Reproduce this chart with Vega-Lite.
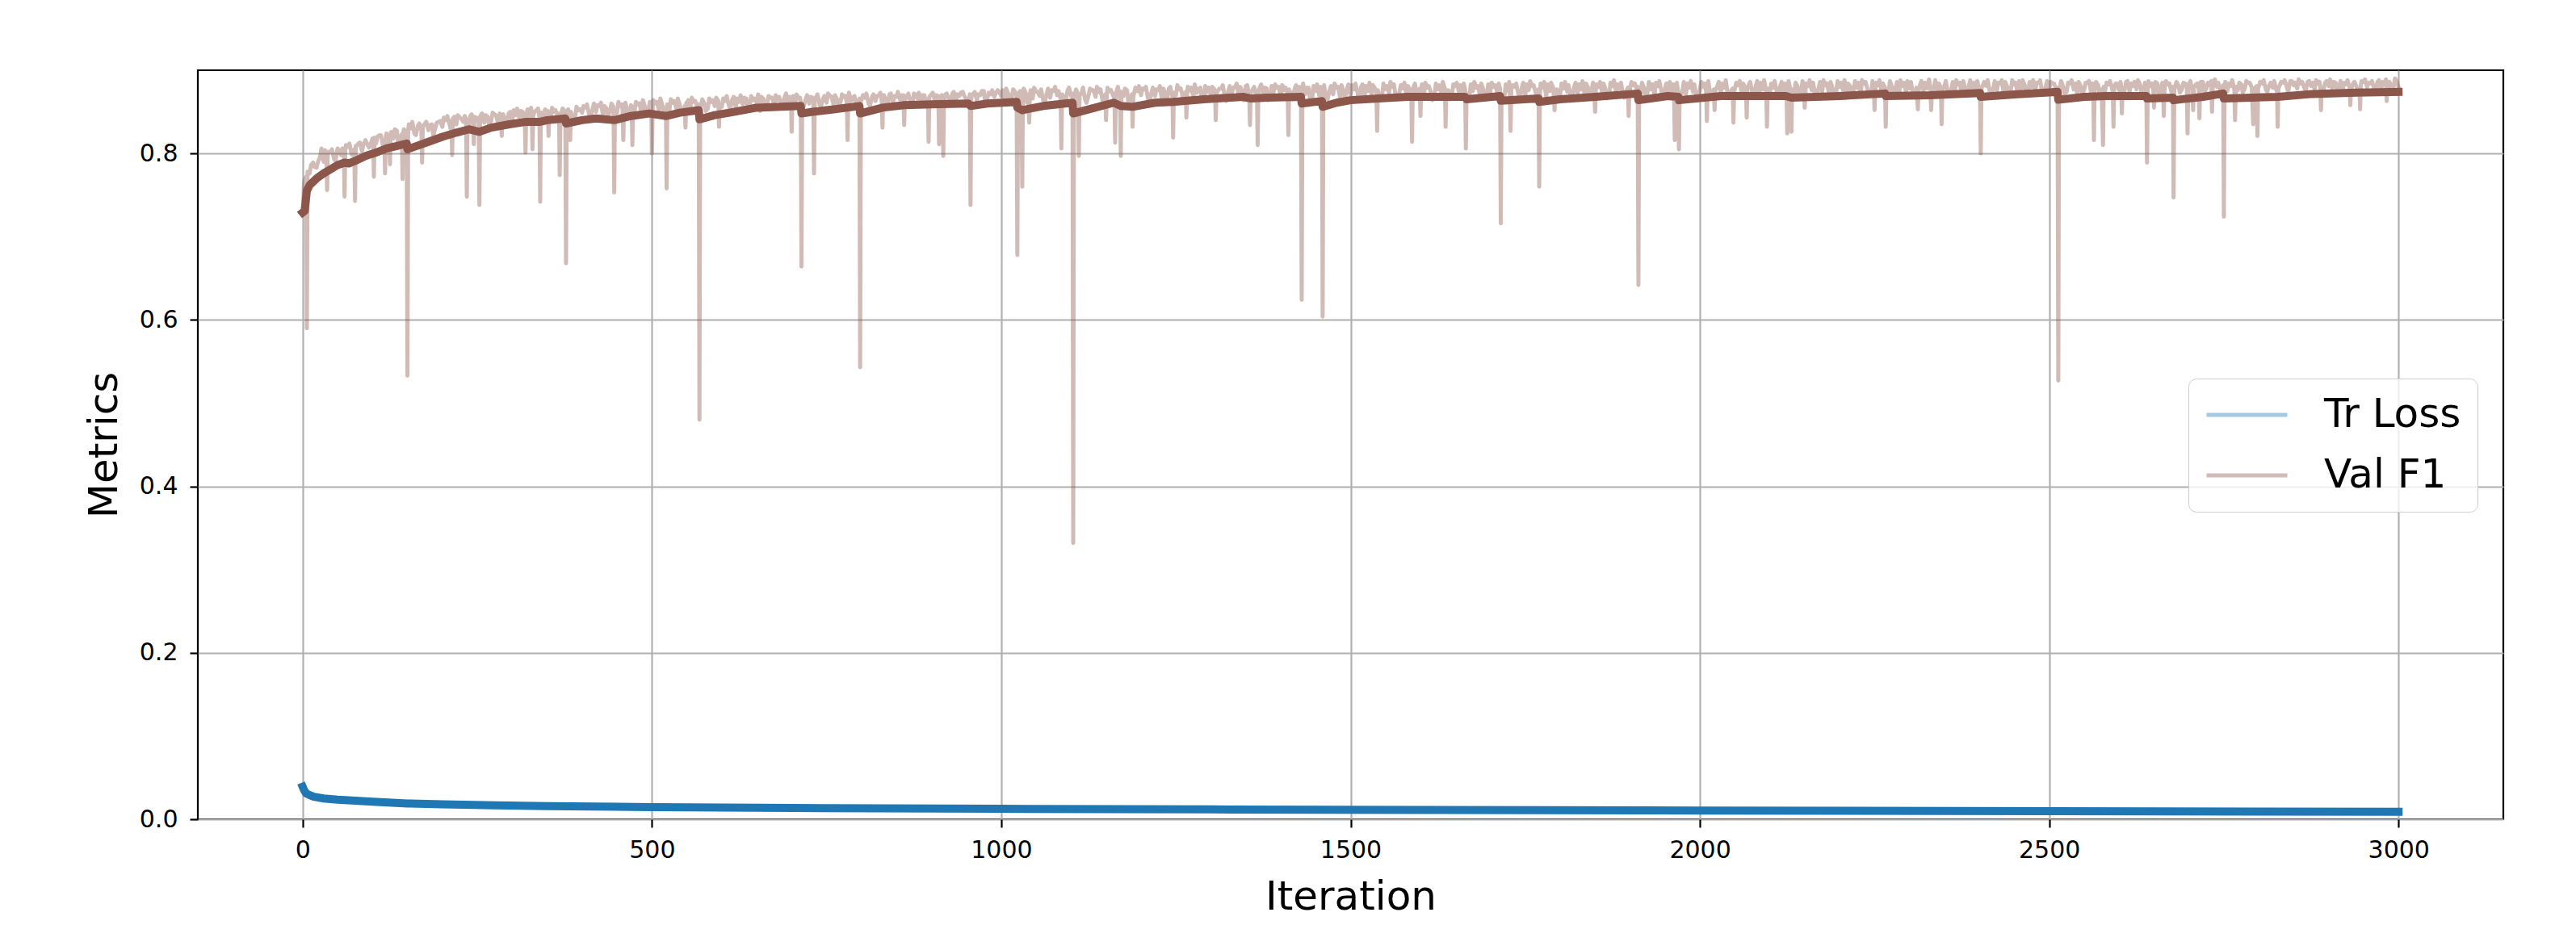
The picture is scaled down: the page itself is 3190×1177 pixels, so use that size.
{
  "$schema": "https://vega.github.io/schema/vega-lite/v6.json",
  "width": 2855,
  "height": 928,
  "autosize": {"type": "none"},
  "padding": {"left": 245, "top": 87, "right": 90, "bottom": 162},
  "background": "white",
  "config": {
    "font": "DejaVu Sans",
    "view": {"stroke": "black", "strokeWidth": 2.2},
    "axis": {
      "domain": false,
      "grid": true,
      "gridColor": "#b0b0b0",
      "gridWidth": 2.2,
      "gridOpacity": 1,
      "tickColor": "black",
      "tickWidth": 2.2,
      "tickSize": 10,
      "labelFont": "DejaVu Sans",
      "labelFontSize": 30,
      "labelColor": "black",
      "labelFlush": false,
      "labelOverlap": false,
      "titleFont": "DejaVu Sans",
      "titleFontSize": 50,
      "titleFontWeight": "normal",
      "titleColor": "black"
    }
  },
  "datasets": {
    "raw": [
{"i":0,"v":0.728},{"i":2,"v":0.764},{"i":4,"v":0.771},{"i":5,"v":0.772},{"i":6,"v":0.590},{"i":7,"v":0.778},{"i":10,"v":0.776},{"i":15,"v":0.789},{"i":20,"v":0.783},{"i":25,"v":0.796},{"i":30,"v":0.790},{"i":34,"v":0.794},{"i":35,"v":0.756},{"i":36,"v":0.799},{"i":40,"v":0.802},{"i":45,"v":0.793},{"i":50,"v":0.806},{"i":55,"v":0.798},{"i":59,"v":0.801},{"i":60,"v":0.748},{"i":61,"v":0.804},{"i":65,"v":0.808},{"i":70,"v":0.799},{"i":74,"v":0.805},{"i":75,"v":0.743},{"i":76,"v":0.809},{"i":80,"v":0.812},{"i":85,"v":0.803},{"i":90,"v":0.816},{"i":95,"v":0.807},
{"i":100,"v":0.818},{"i":101,"v":0.815},{"i":102,"v":0.772},{"i":103,"v":0.819},{"i":105,"v":0.812},{"i":110,"v":0.822},{"i":115,"v":0.809},{"i":117,"v":0.816},{"i":118,"v":0.776},{"i":119,"v":0.820},{"i":120,"v":0.824},{"i":124,"v":0.821},{"i":125,"v":0.787},{"i":126,"v":0.825},{"i":130,"v":0.818},{"i":135,"v":0.827},{"i":140,"v":0.820},{"i":142,"v":0.823},{"i":143,"v":0.769},{"i":144,"v":0.826},{"i":145,"v":0.829},{"i":149,"v":0.822},{"i":150,"v":0.533},{"i":151,"v":0.827},{"i":155,"v":0.830},{"i":160,"v":0.824},{"i":165,"v":0.833},{"i":170,"v":0.827},{"i":171,"v":0.789},{"i":172,"v":0.832},{"i":175,"v":0.836},{"i":180,"v":0.828},{"i":185,"v":0.835},{"i":190,"v":0.831},{"i":195,"v":0.838},
{"i":200,"v":0.832},{"i":205,"v":0.840},{"i":210,"v":0.836},{"i":213,"v":0.839},{"i":214,"v":0.798},{"i":215,"v":0.842},{"i":220,"v":0.835},{"i":225,"v":0.843},{"i":230,"v":0.838},{"i":234,"v":0.841},{"i":235,"v":0.748},{"i":236,"v":0.837},{"i":240,"v":0.845},{"i":244,"v":0.838},{"i":245,"v":0.811},{"i":246,"v":0.842},{"i":250,"v":0.839},{"i":252,"v":0.843},{"i":253,"v":0.738},{"i":254,"v":0.840},{"i":255,"v":0.846},{"i":260,"v":0.837},{"i":265,"v":0.844},{"i":270,"v":0.840},{"i":275,"v":0.847},{"i":280,"v":0.836},{"i":284,"v":0.843},{"i":285,"v":0.821},{"i":286,"v":0.846},{"i":290,"v":0.841},{"i":295,"v":0.848},
{"i":300,"v":0.839},{"i":305,"v":0.846},{"i":310,"v":0.843},{"i":315,"v":0.850},{"i":318,"v":0.844},{"i":319,"v":0.801},{"i":320,"v":0.847},{"i":325,"v":0.841},{"i":328,"v":0.848},{"i":329,"v":0.805},{"i":330,"v":0.845},{"i":335,"v":0.852},{"i":339,"v":0.843},{"i":340,"v":0.742},{"i":341,"v":0.849},{"i":345,"v":0.846},{"i":350,"v":0.844},{"i":351,"v":0.851},{"i":352,"v":0.821},{"i":353,"v":0.847},{"i":355,"v":0.842},{"i":360,"v":0.850},{"i":365,"v":0.845},{"i":367,"v":0.848},{"i":368,"v":0.774},{"i":369,"v":0.843},{"i":375,"v":0.851},{"i":376,"v":0.849},{"i":377,"v":0.668},{"i":378,"v":0.846},{"i":380,"v":0.853},{"i":382,"v":0.847},{"i":383,"v":0.816},{"i":384,"v":0.850},{"i":390,"v":0.844},{"i":395,"v":0.852},
{"i":400,"v":0.849},{"i":405,"v":0.855},{"i":410,"v":0.847},{"i":415,"v":0.853},{"i":420,"v":0.850},{"i":425,"v":0.857},{"i":430,"v":0.846},{"i":435,"v":0.854},{"i":440,"v":0.851},{"i":445,"v":0.856},{"i":446,"v":0.753},{"i":447,"v":0.852},{"i":450,"v":0.849},{"i":455,"v":0.857},{"i":458,"v":0.852},{"i":459,"v":0.816},{"i":460,"v":0.855},{"i":465,"v":0.850},{"i":470,"v":0.858},{"i":471,"v":0.853},{"i":472,"v":0.810},{"i":473,"v":0.856},{"i":475,"v":0.851},{"i":480,"v":0.859},{"i":485,"v":0.849},{"i":490,"v":0.856},{"i":495,"v":0.853},
{"i":499,"v":0.858},{"i":500,"v":0.800},{"i":501,"v":0.855},{"i":505,"v":0.860},{"i":510,"v":0.852},{"i":515,"v":0.858},{"i":520,"v":0.855},{"i":521,"v":0.758},{"i":522,"v":0.859},{"i":525,"v":0.852},{"i":530,"v":0.861},{"i":535,"v":0.854},{"i":540,"v":0.858},{"i":545,"v":0.851},{"i":547,"v":0.857},{"i":548,"v":0.831},{"i":549,"v":0.860},{"i":555,"v":0.856},{"i":560,"v":0.862},{"i":565,"v":0.855},{"i":567,"v":0.859},{"i":568,"v":0.480},{"i":569,"v":0.853},{"i":575,"v":0.860},{"i":580,"v":0.854},{"i":585,"v":0.862},{"i":590,"v":0.857},{"i":595,"v":0.863},{"i":596,"v":0.832},{"i":597,"v":0.858},
{"i":600,"v":0.856},{"i":605,"v":0.863},{"i":610,"v":0.858},{"i":615,"v":0.865},{"i":620,"v":0.855},{"i":625,"v":0.862},{"i":630,"v":0.859},{"i":635,"v":0.866},{"i":640,"v":0.857},{"i":645,"v":0.864},{"i":650,"v":0.860},{"i":655,"v":0.851},{"i":660,"v":0.865},{"i":665,"v":0.859},{"i":670,"v":0.867},{"i":675,"v":0.858},{"i":680,"v":0.864},{"i":685,"v":0.861},{"i":690,"v":0.868},{"i":695,"v":0.857},{"i":699,"v":0.863},{"i":700,"v":0.826},{"i":701,"v":0.866},
{"i":705,"v":0.859},{"i":710,"v":0.866},{"i":713,"v":0.862},{"i":714,"v":0.664},{"i":715,"v":0.858},{"i":720,"v":0.865},{"i":725,"v":0.860},{"i":730,"v":0.867},{"i":731,"v":0.861},{"i":732,"v":0.776},{"i":733,"v":0.864},{"i":740,"v":0.858},{"i":745,"v":0.866},{"i":750,"v":0.861},{"i":755,"v":0.869},{"i":760,"v":0.859},{"i":765,"v":0.865},{"i":770,"v":0.862},{"i":775,"v":0.868},{"i":779,"v":0.860},{"i":780,"v":0.816},{"i":781,"v":0.866},{"i":785,"v":0.863},{"i":790,"v":0.869},{"i":795,"v":0.861},{"i":797,"v":0.866},{"i":798,"v":0.543},{"i":799,"v":0.862},
{"i":805,"v":0.867},{"i":810,"v":0.860},{"i":815,"v":0.868},{"i":820,"v":0.863},{"i":825,"v":0.870},{"i":829,"v":0.862},{"i":830,"v":0.831},{"i":831,"v":0.867},{"i":835,"v":0.864},{"i":840,"v":0.871},{"i":845,"v":0.861},{"i":850,"v":0.868},{"i":855,"v":0.865},{"i":860,"v":0.870},{"i":861,"v":0.834},{"i":862,"v":0.864},{"i":865,"v":0.869},{"i":870,"v":0.862},{"i":875,"v":0.872},{"i":880,"v":0.866},{"i":885,"v":0.863},{"i":890,"v":0.870},{"i":895,"v":0.865},{"i":896,"v":0.814},{"i":897,"v":0.868},{"i":900,"v":0.871},
{"i":905,"v":0.863},{"i":910,"v":0.869},{"i":911,"v":0.811},{"i":912,"v":0.866},{"i":915,"v":0.870},{"i":916,"v":0.868},{"i":917,"v":0.797},{"i":918,"v":0.864},{"i":920,"v":0.871},{"i":925,"v":0.866},{"i":930,"v":0.872},{"i":935,"v":0.863},{"i":940,"v":0.869},{"i":945,"v":0.874},{"i":950,"v":0.865},{"i":955,"v":0.871},{"i":956,"v":0.738},{"i":957,"v":0.867},{"i":960,"v":0.872},{"i":965,"v":0.864},{"i":970,"v":0.870},{"i":975,"v":0.875},{"i":980,"v":0.866},{"i":985,"v":0.871},{"i":990,"v":0.868},{"i":995,"v":0.876},
{"i":1000,"v":0.869},{"i":1005,"v":0.864},{"i":1010,"v":0.872},{"i":1015,"v":0.867},{"i":1020,"v":0.874},{"i":1022,"v":0.868},{"i":1023,"v":0.678},{"i":1024,"v":0.871},{"i":1029,"v":0.866},{"i":1030,"v":0.760},{"i":1031,"v":0.870},{"i":1035,"v":0.873},{"i":1039,"v":0.868},{"i":1040,"v":0.837},{"i":1041,"v":0.871},{"i":1045,"v":0.866},{"i":1050,"v":0.874},{"i":1055,"v":0.869},{"i":1060,"v":0.864},{"i":1065,"v":0.872},{"i":1070,"v":0.867},{"i":1075,"v":0.875},{"i":1080,"v":0.870},{"i":1085,"v":0.865},{"i":1086,"v":0.806},{"i":1087,"v":0.871},{"i":1090,"v":0.868},{"i":1095,"v":0.876},{"i":1100,"v":0.869},{"i":1102,"v":0.872},{"i":1103,"v":0.332},{"i":1104,"v":0.866},
{"i":1110,"v":0.871},{"i":1111,"v":0.797},{"i":1112,"v":0.869},{"i":1115,"v":0.873},{"i":1120,"v":0.865},{"i":1125,"v":0.870},{"i":1130,"v":0.876},{"i":1135,"v":0.868},{"i":1140,"v":0.874},{"i":1145,"v":0.863},{"i":1149,"v":0.871},{"i":1150,"v":0.840},{"i":1151,"v":0.869},{"i":1155,"v":0.875},{"i":1160,"v":0.870},{"i":1162,"v":0.866},{"i":1163,"v":0.813},{"i":1164,"v":0.872},{"i":1170,"v":0.868},{"i":1171,"v":0.797},{"i":1172,"v":0.874},{"i":1175,"v":0.869},{"i":1180,"v":0.876},{"i":1185,"v":0.864},{"i":1187,"v":0.871},{"i":1188,"v":0.832},{"i":1189,"v":0.868},{"i":1195,"v":0.875},
{"i":1200,"v":0.870},{"i":1205,"v":0.877},{"i":1210,"v":0.866},{"i":1215,"v":0.873},{"i":1220,"v":0.869},{"i":1225,"v":0.876},{"i":1230,"v":0.864},{"i":1235,"v":0.872},{"i":1240,"v":0.878},{"i":1245,"v":0.868},{"i":1246,"v":0.819},{"i":1247,"v":0.873},{"i":1250,"v":0.870},{"i":1255,"v":0.877},{"i":1260,"v":0.867},{"i":1264,"v":0.874},{"i":1265,"v":0.843},{"i":1266,"v":0.871},{"i":1270,"v":0.876},{"i":1275,"v":0.868},{"i":1280,"v":0.873},{"i":1285,"v":0.879},{"i":1290,"v":0.866},{"i":1295,"v":0.874},{"i":1300,"v":0.871},
{"i":1305,"v":0.877},{"i":1306,"v":0.874},{"i":1307,"v":0.840},{"i":1308,"v":0.872},{"i":1315,"v":0.878},{"i":1320,"v":0.869},{"i":1325,"v":0.875},{"i":1330,"v":0.872},{"i":1335,"v":0.880},{"i":1340,"v":0.867},{"i":1345,"v":0.874},{"i":1350,"v":0.881},{"i":1355,"v":0.870},{"i":1356,"v":0.834},{"i":1357,"v":0.873},{"i":1360,"v":0.877},{"i":1365,"v":0.868},{"i":1366,"v":0.872},{"i":1367,"v":0.810},{"i":1368,"v":0.875},{"i":1375,"v":0.871},{"i":1380,"v":0.878},{"i":1385,"v":0.866},{"i":1390,"v":0.874},{"i":1395,"v":0.879},
{"i":1400,"v":0.869},{"i":1405,"v":0.876},{"i":1410,"v":0.872},{"i":1411,"v":0.822},{"i":1412,"v":0.877},{"i":1415,"v":0.870},{"i":1420,"v":0.878},{"i":1425,"v":0.873},{"i":1429,"v":0.868},{"i":1430,"v":0.624},{"i":1431,"v":0.874},{"i":1435,"v":0.871},{"i":1440,"v":0.879},{"i":1445,"v":0.866},{"i":1450,"v":0.875},{"i":1455,"v":0.870},{"i":1459,"v":0.877},{"i":1460,"v":0.604},{"i":1461,"v":0.872},{"i":1465,"v":0.868},{"i":1470,"v":0.876},{"i":1475,"v":0.871},{"i":1480,"v":0.879},{"i":1485,"v":0.867},{"i":1490,"v":0.874},{"i":1495,"v":0.878},
{"i":1500,"v":0.870},{"i":1505,"v":0.877},{"i":1510,"v":0.873},{"i":1515,"v":0.880},{"i":1520,"v":0.868},{"i":1525,"v":0.875},{"i":1530,"v":0.871},{"i":1535,"v":0.878},{"i":1537,"v":0.872},{"i":1538,"v":0.827},{"i":1539,"v":0.876},{"i":1545,"v":0.869},{"i":1550,"v":0.877},{"i":1555,"v":0.873},{"i":1560,"v":0.880},{"i":1565,"v":0.867},{"i":1570,"v":0.874},{"i":1575,"v":0.878},{"i":1580,"v":0.870},{"i":1585,"v":0.876},{"i":1587,"v":0.872},{"i":1588,"v":0.814},{"i":1589,"v":0.877},{"i":1595,"v":0.871},{"i":1599,"v":0.878},{"i":1600,"v":0.845},{"i":1601,"v":0.874},
{"i":1605,"v":0.870},{"i":1610,"v":0.879},{"i":1615,"v":0.873},{"i":1620,"v":0.868},{"i":1625,"v":0.877},{"i":1630,"v":0.872},{"i":1635,"v":0.878},{"i":1636,"v":0.832},{"i":1637,"v":0.871},{"i":1640,"v":0.876},{"i":1645,"v":0.869},{"i":1650,"v":0.881},{"i":1655,"v":0.874},{"i":1660,"v":0.870},{"i":1664,"v":0.877},{"i":1665,"v":0.806},{"i":1666,"v":0.872},{"i":1670,"v":0.866},{"i":1675,"v":0.875},{"i":1680,"v":0.879},{"i":1685,"v":0.871},{"i":1690,"v":0.877},{"i":1695,"v":0.868},{"i":1700,"v":0.874},
{"i":1705,"v":0.880},{"i":1710,"v":0.873},{"i":1714,"v":0.878},{"i":1715,"v":0.716},{"i":1716,"v":0.870},{"i":1720,"v":0.866},{"i":1725,"v":0.875},{"i":1728,"v":0.871},{"i":1729,"v":0.827},{"i":1730,"v":0.877},{"i":1735,"v":0.880},{"i":1740,"v":0.872},{"i":1745,"v":0.878},{"i":1750,"v":0.869},{"i":1755,"v":0.876},{"i":1760,"v":0.881},{"i":1765,"v":0.873},{"i":1769,"v":0.877},{"i":1770,"v":0.760},{"i":1771,"v":0.871},{"i":1775,"v":0.879},{"i":1780,"v":0.868},{"i":1785,"v":0.875},{"i":1790,"v":0.879},{"i":1792,"v":0.852},{"i":1793,"v":0.872},{"i":1795,"v":0.877},{"i":1800,"v":0.871},
{"i":1805,"v":0.878},{"i":1810,"v":0.874},{"i":1815,"v":0.869},{"i":1820,"v":0.880},{"i":1825,"v":0.872},{"i":1830,"v":0.877},{"i":1835,"v":0.870},{"i":1840,"v":0.879},{"i":1845,"v":0.875},{"i":1849,"v":0.871},{"i":1850,"v":0.850},{"i":1851,"v":0.876},{"i":1855,"v":0.880},{"i":1860,"v":0.873},{"i":1865,"v":0.877},{"i":1870,"v":0.868},{"i":1875,"v":0.881},{"i":1880,"v":0.874},{"i":1885,"v":0.878},{"i":1890,"v":0.871},{"i":1895,"v":0.876},{"i":1897,"v":0.879},{"i":1898,"v":0.845},{"i":1899,"v":0.873},
{"i":1905,"v":0.882},{"i":1910,"v":0.876},{"i":1911,"v":0.880},{"i":1912,"v":0.642},{"i":1913,"v":0.874},{"i":1915,"v":0.871},{"i":1920,"v":0.879},{"i":1925,"v":0.873},{"i":1930,"v":0.877},{"i":1935,"v":0.870},{"i":1940,"v":0.881},{"i":1945,"v":0.874},{"i":1950,"v":0.878},{"i":1955,"v":0.872},{"i":1960,"v":0.866},{"i":1963,"v":0.874},{"i":1964,"v":0.816},{"i":1965,"v":0.870},{"i":1969,"v":0.873},{"i":1970,"v":0.805},{"i":1971,"v":0.868},{"i":1975,"v":0.876},{"i":1980,"v":0.871},{"i":1985,"v":0.879},{"i":1990,"v":0.874},{"i":1995,"v":0.868},{"i":2000,"v":0.877},
{"i":2005,"v":0.880},{"i":2009,"v":0.874},{"i":2010,"v":0.839},{"i":2011,"v":0.878},{"i":2015,"v":0.871},{"i":2020,"v":0.877},{"i":2021,"v":0.852},{"i":2022,"v":0.875},{"i":2025,"v":0.881},{"i":2030,"v":0.873},{"i":2035,"v":0.879},{"i":2040,"v":0.870},{"i":2045,"v":0.876},{"i":2047,"v":0.878},{"i":2048,"v":0.837},{"i":2049,"v":0.874},{"i":2055,"v":0.882},{"i":2060,"v":0.872},{"i":2065,"v":0.878},{"i":2066,"v":0.875},{"i":2067,"v":0.843},{"i":2068,"v":0.879},{"i":2075,"v":0.873},{"i":2080,"v":0.881},{"i":2085,"v":0.869},{"i":2090,"v":0.877},{"i":2095,"v":0.874},{"i":2096,"v":0.832},{"i":2097,"v":0.878},{"i":2100,"v":0.871},
{"i":2105,"v":0.879},{"i":2110,"v":0.874},{"i":2115,"v":0.881},{"i":2120,"v":0.870},{"i":2124,"v":0.876},{"i":2125,"v":0.824},{"i":2126,"v":0.872},{"i":2130,"v":0.874},{"i":2131,"v":0.826},{"i":2132,"v":0.877},{"i":2135,"v":0.871},{"i":2140,"v":0.880},{"i":2145,"v":0.875},{"i":2149,"v":0.878},{"i":2150,"v":0.855},{"i":2151,"v":0.873},{"i":2155,"v":0.881},{"i":2160,"v":0.876},{"i":2165,"v":0.870},{"i":2170,"v":0.879},{"i":2175,"v":0.874},{"i":2180,"v":0.882},{"i":2185,"v":0.871},{"i":2190,"v":0.878},{"i":2195,"v":0.873},{"i":2200,"v":0.880},
{"i":2205,"v":0.876},{"i":2210,"v":0.870},{"i":2215,"v":0.881},{"i":2220,"v":0.875},{"i":2225,"v":0.879},{"i":2230,"v":0.872},{"i":2235,"v":0.884},{"i":2240,"v":0.877},{"i":2245,"v":0.871},{"i":2249,"v":0.878},{"i":2250,"v":0.852},{"i":2251,"v":0.876},{"i":2255,"v":0.882},{"i":2260,"v":0.874},{"i":2265,"v":0.879},{"i":2266,"v":0.832},{"i":2267,"v":0.875},{"i":2270,"v":0.872},{"i":2275,"v":0.880},{"i":2280,"v":0.876},{"i":2285,"v":0.869},{"i":2290,"v":0.881},{"i":2295,"v":0.874},{"i":2300,"v":0.878},
{"i":2305,"v":0.871},{"i":2310,"v":0.879},{"i":2312,"v":0.853},{"i":2313,"v":0.876},{"i":2315,"v":0.882},{"i":2320,"v":0.875},{"i":2325,"v":0.878},{"i":2328,"v":0.889},{"i":2330,"v":0.877},{"i":2331,"v":0.852},{"i":2332,"v":0.874},{"i":2335,"v":0.880},{"i":2340,"v":0.873},{"i":2345,"v":0.879},{"i":2346,"v":0.835},{"i":2347,"v":0.876},{"i":2350,"v":0.881},{"i":2355,"v":0.872},{"i":2360,"v":0.878},{"i":2365,"v":0.875},{"i":2370,"v":0.883},{"i":2375,"v":0.870},{"i":2380,"v":0.877},{"i":2385,"v":0.881},{"i":2390,"v":0.874},{"i":2395,"v":0.879},{"i":2400,"v":0.876},{"i":2401,"v":0.873},{"i":2402,"v":0.800},{"i":2403,"v":0.878},
{"i":2410,"v":0.881},{"i":2415,"v":0.873},{"i":2420,"v":0.879},{"i":2425,"v":0.876},{"i":2430,"v":0.884},{"i":2435,"v":0.872},{"i":2440,"v":0.880},{"i":2445,"v":0.875},{"i":2450,"v":0.883},{"i":2455,"v":0.871},{"i":2460,"v":0.878},{"i":2465,"v":0.882},{"i":2470,"v":0.874},{"i":2475,"v":0.880},{"i":2480,"v":0.876},{"i":2485,"v":0.885},{"i":2490,"v":0.873},{"i":2495,"v":0.881},{"i":2500,"v":0.877},
{"i":2505,"v":0.884},{"i":2510,"v":0.876},{"i":2512,"v":0.879},{"i":2513,"v":0.527},{"i":2514,"v":0.873},{"i":2520,"v":0.880},{"i":2525,"v":0.874},{"i":2530,"v":0.884},{"i":2535,"v":0.877},{"i":2540,"v":0.872},{"i":2545,"v":0.881},{"i":2550,"v":0.876},{"i":2555,"v":0.885},{"i":2560,"v":0.873},{"i":2563,"v":0.879},{"i":2564,"v":0.816},{"i":2565,"v":0.875},{"i":2570,"v":0.882},{"i":2575,"v":0.877},{"i":2577,"v":0.810},{"i":2578,"v":0.880},{"i":2580,"v":0.875},{"i":2585,"v":0.883},{"i":2590,"v":0.878},{"i":2591,"v":0.874},{"i":2592,"v":0.832},{"i":2593,"v":0.879},{"i":2595,"v":0.884},{"i":2600,"v":0.876},
{"i":2603,"v":0.880},{"i":2604,"v":0.848},{"i":2605,"v":0.877},{"i":2610,"v":0.886},{"i":2615,"v":0.874},{"i":2620,"v":0.881},{"i":2625,"v":0.877},{"i":2630,"v":0.883},{"i":2635,"v":0.873},{"i":2639,"v":0.879},{"i":2640,"v":0.789},{"i":2641,"v":0.875},{"i":2645,"v":0.881},{"i":2649,"v":0.877},{"i":2650,"v":0.855},{"i":2651,"v":0.880},{"i":2655,"v":0.884},{"i":2660,"v":0.876},{"i":2663,"v":0.882},{"i":2664,"v":0.845},{"i":2665,"v":0.877},{"i":2670,"v":0.883},{"i":2675,"v":0.874},{"i":2677,"v":0.880},{"i":2678,"v":0.747},{"i":2679,"v":0.876},{"i":2685,"v":0.882},{"i":2690,"v":0.877},{"i":2695,"v":0.884},{"i":2697,"v":0.878},{"i":2698,"v":0.824},{"i":2699,"v":0.881},
{"i":2705,"v":0.876},{"i":2706,"v":0.852},{"i":2707,"v":0.879},{"i":2710,"v":0.883},{"i":2714,"v":0.877},{"i":2715,"v":0.842},{"i":2716,"v":0.881},{"i":2720,"v":0.886},{"i":2725,"v":0.878},{"i":2730,"v":0.882},{"i":2733,"v":0.850},{"i":2734,"v":0.879},{"i":2737,"v":0.889},{"i":2740,"v":0.880},{"i":2745,"v":0.876},{"i":2749,"v":0.882},{"i":2750,"v":0.724},{"i":2751,"v":0.878},{"i":2755,"v":0.875},{"i":2760,"v":0.881},{"i":2765,"v":0.877},{"i":2766,"v":0.840},{"i":2767,"v":0.880},{"i":2770,"v":0.876},{"i":2775,"v":0.883},{"i":2780,"v":0.878},{"i":2785,"v":0.885},{"i":2790,"v":0.879},{"i":2792,"v":0.835},{"i":2793,"v":0.877},{"i":2797,"v":0.881},{"i":2798,"v":0.821},{"i":2799,"v":0.878},
{"i":2805,"v":0.884},{"i":2810,"v":0.877},{"i":2815,"v":0.882},{"i":2820,"v":0.879},{"i":2825,"v":0.876},{"i":2826,"v":0.880},{"i":2827,"v":0.832},{"i":2828,"v":0.878},{"i":2835,"v":0.885},{"i":2840,"v":0.880},{"i":2845,"v":0.887},{"i":2850,"v":0.882},{"i":2855,"v":0.878},{"i":2860,"v":0.884},{"i":2865,"v":0.879},{"i":2870,"v":0.886},{"i":2875,"v":0.881},{"i":2880,"v":0.877},{"i":2885,"v":0.884},{"i":2888,"v":0.880},{"i":2889,"v":0.852},{"i":2890,"v":0.878},{"i":2895,"v":0.885},{"i":2900,"v":0.881},
{"i":2905,"v":0.878},{"i":2910,"v":0.885},{"i":2915,"v":0.881},{"i":2920,"v":0.876},{"i":2925,"v":0.883},{"i":2930,"v":0.879},{"i":2931,"v":0.858},{"i":2932,"v":0.877},{"i":2935,"v":0.884},{"i":2940,"v":0.880},{"i":2944,"v":0.878},{"i":2945,"v":0.853},{"i":2946,"v":0.882},{"i":2950,"v":0.886},{"i":2955,"v":0.880},{"i":2960,"v":0.884},{"i":2965,"v":0.878},{"i":2970,"v":0.886},{"i":2975,"v":0.876},{"i":2980,"v":0.883},{"i":2983,"v":0.863},{"i":2984,"v":0.880},{"i":2986,"v":0.884},{"i":2990,"v":0.879},{"i":2995,"v":0.890},{"i":3000,"v":0.880},
{"i":12,"v":0.786},{"i":17,"v":0.784},{"i":22,"v":0.790},{"i":27,"v":0.806},{"i":32,"v":0.804},{"i":37,"v":0.802},{"i":42,"v":0.805},{"i":47,"v":0.791},{"i":52,"v":0.804},{"i":57,"v":0.806},{"i":62,"v":0.810},{"i":67,"v":0.812},{"i":72,"v":0.798},{"i":77,"v":0.809},{"i":82,"v":0.813},{"i":87,"v":0.811},{"i":92,"v":0.812},{"i":97,"v":0.810},
{"i":107,"v":0.820},{"i":112,"v":0.822},{"i":122,"v":0.818},{"i":127,"v":0.826},{"i":132,"v":0.829},{"i":137,"v":0.810},{"i":147,"v":0.827},{"i":152,"v":0.835},{"i":157,"v":0.838},{"i":162,"v":0.822},{"i":167,"v":0.836},{"i":177,"v":0.838},{"i":182,"v":0.834},{"i":187,"v":0.821},{"i":192,"v":0.837},{"i":197,"v":0.839},
{"i":202,"v":0.843},{"i":207,"v":0.845},{"i":212,"v":0.829},{"i":217,"v":0.844},{"i":222,"v":0.846},{"i":227,"v":0.842},{"i":232,"v":0.845},{"i":237,"v":0.830},{"i":242,"v":0.847},{"i":247,"v":0.844},{"i":257,"v":0.848},{"i":262,"v":0.846},{"i":267,"v":0.833},{"i":272,"v":0.849},{"i":277,"v":0.845},{"i":282,"v":0.848},{"i":287,"v":0.847},{"i":292,"v":0.834},{"i":297,"v":0.850},
{"i":302,"v":0.852},{"i":307,"v":0.854},{"i":312,"v":0.851},{"i":317,"v":0.837},{"i":322,"v":0.853},{"i":327,"v":0.855},{"i":332,"v":0.850},{"i":337,"v":0.854},{"i":342,"v":0.838},{"i":347,"v":0.853},{"i":357,"v":0.855},{"i":362,"v":0.852},{"i":372,"v":0.854},{"i":387,"v":0.837},{"i":392,"v":0.856},{"i":397,"v":0.853},
{"i":402,"v":0.857},{"i":407,"v":0.859},{"i":412,"v":0.844},{"i":417,"v":0.860},{"i":422,"v":0.858},{"i":427,"v":0.861},{"i":432,"v":0.857},{"i":437,"v":0.845},{"i":442,"v":0.860},{"i":452,"v":0.862},{"i":457,"v":0.859},{"i":462,"v":0.861},{"i":467,"v":0.846},{"i":477,"v":0.862},{"i":482,"v":0.860},{"i":487,"v":0.864},{"i":492,"v":0.847},{"i":497,"v":0.862},
{"i":502,"v":0.864},{"i":507,"v":0.862},{"i":512,"v":0.866},{"i":517,"v":0.849},{"i":527,"v":0.865},{"i":532,"v":0.863},{"i":537,"v":0.866},{"i":542,"v":0.850},{"i":552,"v":0.864},{"i":557,"v":0.867},{"i":562,"v":0.863},{"i":572,"v":0.865},{"i":577,"v":0.851},{"i":582,"v":0.866},{"i":587,"v":0.864},{"i":592,"v":0.867},
{"i":602,"v":0.866},{"i":607,"v":0.869},{"i":612,"v":0.853},{"i":617,"v":0.868},{"i":622,"v":0.866},{"i":627,"v":0.870},{"i":632,"v":0.867},{"i":637,"v":0.854},{"i":642,"v":0.869},{"i":647,"v":0.866},{"i":652,"v":0.871},{"i":657,"v":0.868},{"i":662,"v":0.853},{"i":667,"v":0.869},{"i":672,"v":0.867},{"i":677,"v":0.870},{"i":682,"v":0.868},{"i":687,"v":0.855},{"i":692,"v":0.872},{"i":697,"v":0.868},
{"i":702,"v":0.869},{"i":707,"v":0.871},{"i":712,"v":0.867},{"i":717,"v":0.856},{"i":722,"v":0.870},{"i":727,"v":0.868},{"i":737,"v":0.871},{"i":742,"v":0.857},{"i":747,"v":0.869},{"i":752,"v":0.872},{"i":757,"v":0.868},{"i":762,"v":0.870},{"i":767,"v":0.856},{"i":772,"v":0.871},{"i":777,"v":0.869},{"i":782,"v":0.873},{"i":787,"v":0.867},{"i":792,"v":0.858},
{"i":802,"v":0.870},{"i":807,"v":0.872},{"i":812,"v":0.857},{"i":817,"v":0.871},{"i":822,"v":0.869},{"i":827,"v":0.873},{"i":832,"v":0.870},{"i":837,"v":0.858},{"i":842,"v":0.872},{"i":847,"v":0.869},{"i":852,"v":0.874},{"i":857,"v":0.870},{"i":867,"v":0.872},{"i":872,"v":0.857},{"i":877,"v":0.871},{"i":882,"v":0.873},{"i":887,"v":0.870},{"i":892,"v":0.859},
{"i":902,"v":0.873},{"i":907,"v":0.870},{"i":922,"v":0.872},{"i":927,"v":0.858},{"i":932,"v":0.874},{"i":937,"v":0.871},{"i":942,"v":0.873},{"i":947,"v":0.869},{"i":952,"v":0.859},{"i":962,"v":0.874},{"i":967,"v":0.871},{"i":972,"v":0.875},{"i":977,"v":0.860},{"i":982,"v":0.873},{"i":987,"v":0.876},{"i":992,"v":0.872},{"i":997,"v":0.874},
{"i":1002,"v":0.876},{"i":1007,"v":0.878},{"i":1012,"v":0.860},{"i":1017,"v":0.877},{"i":1027,"v":0.875},{"i":1032,"v":0.878},{"i":1037,"v":0.861},{"i":1042,"v":0.876},{"i":1047,"v":0.879},{"i":1052,"v":0.874},{"i":1057,"v":0.877},{"i":1062,"v":0.860},{"i":1067,"v":0.878},{"i":1072,"v":0.876},{"i":1077,"v":0.880},{"i":1082,"v":0.875},{"i":1092,"v":0.862},{"i":1097,"v":0.879},
{"i":1107,"v":0.877},{"i":1117,"v":0.879},{"i":1122,"v":0.861},{"i":1127,"v":0.878},{"i":1132,"v":0.876},{"i":1137,"v":0.880},{"i":1142,"v":0.877},{"i":1147,"v":0.862},{"i":1152,"v":0.879},{"i":1157,"v":0.876},{"i":1167,"v":0.880},{"i":1177,"v":0.878},{"i":1182,"v":0.861},{"i":1192,"v":0.879},{"i":1197,"v":0.881},
{"i":1202,"v":0.878},{"i":1207,"v":0.880},{"i":1212,"v":0.862},{"i":1217,"v":0.879},{"i":1222,"v":0.877},{"i":1227,"v":0.881},{"i":1232,"v":0.878},{"i":1237,"v":0.863},{"i":1242,"v":0.880},{"i":1252,"v":0.882},{"i":1257,"v":0.878},{"i":1262,"v":0.863},{"i":1267,"v":0.880},{"i":1272,"v":0.879},{"i":1277,"v":0.883},{"i":1282,"v":0.877},{"i":1287,"v":0.864},{"i":1292,"v":0.881},{"i":1297,"v":0.879},
{"i":1302,"v":0.880},{"i":1312,"v":0.878},{"i":1317,"v":0.882},{"i":1322,"v":0.863},{"i":1327,"v":0.881},{"i":1332,"v":0.879},{"i":1337,"v":0.884},{"i":1342,"v":0.880},{"i":1347,"v":0.864},{"i":1352,"v":0.882},{"i":1362,"v":0.880},{"i":1372,"v":0.883},{"i":1377,"v":0.879},{"i":1382,"v":0.864},{"i":1387,"v":0.881},{"i":1392,"v":0.883},{"i":1397,"v":0.880},
{"i":1402,"v":0.882},{"i":1407,"v":0.879},{"i":1417,"v":0.865},{"i":1422,"v":0.882},{"i":1427,"v":0.880},{"i":1432,"v":0.884},{"i":1437,"v":0.879},{"i":1442,"v":0.864},{"i":1447,"v":0.881},{"i":1452,"v":0.883},{"i":1457,"v":0.880},{"i":1462,"v":0.882},{"i":1467,"v":0.865},{"i":1472,"v":0.881},{"i":1477,"v":0.884},{"i":1482,"v":0.880},{"i":1487,"v":0.882},{"i":1492,"v":0.866},{"i":1497,"v":0.883},
{"i":1502,"v":0.882},{"i":1507,"v":0.884},{"i":1512,"v":0.863},{"i":1517,"v":0.883},{"i":1522,"v":0.881},{"i":1527,"v":0.885},{"i":1532,"v":0.882},{"i":1542,"v":0.864},{"i":1547,"v":0.884},{"i":1552,"v":0.881},{"i":1557,"v":0.886},{"i":1562,"v":0.883},{"i":1567,"v":0.865},{"i":1572,"v":0.882},{"i":1577,"v":0.885},{"i":1582,"v":0.881},{"i":1592,"v":0.884},{"i":1597,"v":0.866},
{"i":1602,"v":0.883},{"i":1607,"v":0.885},{"i":1612,"v":0.881},{"i":1617,"v":0.864},{"i":1622,"v":0.884},{"i":1627,"v":0.882},{"i":1632,"v":0.886},{"i":1642,"v":0.865},{"i":1647,"v":0.883},{"i":1652,"v":0.885},{"i":1657,"v":0.882},{"i":1662,"v":0.884},{"i":1667,"v":0.866},{"i":1672,"v":0.883},{"i":1677,"v":0.886},{"i":1682,"v":0.881},{"i":1687,"v":0.884},{"i":1692,"v":0.865},{"i":1697,"v":0.883},
{"i":1702,"v":0.885},{"i":1707,"v":0.882},{"i":1712,"v":0.884},{"i":1717,"v":0.865},{"i":1722,"v":0.883},{"i":1727,"v":0.886},{"i":1732,"v":0.882},{"i":1737,"v":0.884},{"i":1742,"v":0.866},{"i":1747,"v":0.885},{"i":1752,"v":0.883},{"i":1757,"v":0.887},{"i":1762,"v":0.882},{"i":1767,"v":0.866},{"i":1772,"v":0.884},{"i":1777,"v":0.886},{"i":1782,"v":0.883},{"i":1787,"v":0.885},{"i":1797,"v":0.867},
{"i":1802,"v":0.884},{"i":1807,"v":0.886},{"i":1812,"v":0.882},{"i":1817,"v":0.866},{"i":1822,"v":0.885},{"i":1827,"v":0.883},{"i":1832,"v":0.887},{"i":1837,"v":0.884},{"i":1842,"v":0.867},{"i":1847,"v":0.885},{"i":1852,"v":0.883},{"i":1857,"v":0.886},{"i":1862,"v":0.884},{"i":1867,"v":0.866},{"i":1872,"v":0.885},{"i":1877,"v":0.888},{"i":1882,"v":0.883},{"i":1887,"v":0.885},{"i":1892,"v":0.867},
{"i":1902,"v":0.886},{"i":1907,"v":0.884},{"i":1917,"v":0.885},{"i":1922,"v":0.867},{"i":1927,"v":0.886},{"i":1932,"v":0.883},{"i":1937,"v":0.885},{"i":1942,"v":0.887},{"i":1947,"v":0.868},{"i":1952,"v":0.884},{"i":1957,"v":0.886},{"i":1962,"v":0.883},{"i":1967,"v":0.885},{"i":1972,"v":0.867},{"i":1977,"v":0.886},{"i":1982,"v":0.884},{"i":1987,"v":0.887},{"i":1992,"v":0.883},{"i":1997,"v":0.868},
{"i":2002,"v":0.886},{"i":2007,"v":0.884},{"i":2012,"v":0.887},{"i":2017,"v":0.868},{"i":2027,"v":0.886},{"i":2032,"v":0.884},{"i":2037,"v":0.888},{"i":2042,"v":0.869},{"i":2052,"v":0.885},{"i":2057,"v":0.887},{"i":2062,"v":0.884},{"i":2072,"v":0.886},{"i":2077,"v":0.868},{"i":2082,"v":0.887},{"i":2087,"v":0.885},{"i":2092,"v":0.888},
{"i":2102,"v":0.884},{"i":2107,"v":0.887},{"i":2112,"v":0.869},{"i":2117,"v":0.886},{"i":2122,"v":0.884},{"i":2127,"v":0.887},{"i":2137,"v":0.885},{"i":2142,"v":0.868},{"i":2147,"v":0.887},{"i":2152,"v":0.884},{"i":2157,"v":0.888},{"i":2162,"v":0.885},{"i":2167,"v":0.869},{"i":2172,"v":0.886},{"i":2177,"v":0.888},{"i":2182,"v":0.884},{"i":2187,"v":0.886},{"i":2192,"v":0.870},{"i":2197,"v":0.887},
{"i":2202,"v":0.885},{"i":2207,"v":0.888},{"i":2212,"v":0.884},{"i":2217,"v":0.869},{"i":2222,"v":0.887},{"i":2227,"v":0.885},{"i":2232,"v":0.888},{"i":2237,"v":0.886},{"i":2242,"v":0.870},{"i":2247,"v":0.887},{"i":2252,"v":0.885},{"i":2257,"v":0.888},{"i":2262,"v":0.884},{"i":2272,"v":0.887},{"i":2277,"v":0.869},{"i":2282,"v":0.886},{"i":2287,"v":0.888},{"i":2292,"v":0.885},{"i":2297,"v":0.887},
{"i":2302,"v":0.886},{"i":2307,"v":0.870},{"i":2317,"v":0.887},{"i":2322,"v":0.885},{"i":2337,"v":0.888},{"i":2342,"v":0.884},{"i":2352,"v":0.887},{"i":2357,"v":0.870},{"i":2362,"v":0.886},{"i":2367,"v":0.888},{"i":2372,"v":0.885},{"i":2377,"v":0.887},{"i":2382,"v":0.871},{"i":2387,"v":0.888},{"i":2392,"v":0.885},{"i":2397,"v":0.887},
{"i":2407,"v":0.886},{"i":2412,"v":0.888},{"i":2417,"v":0.870},{"i":2422,"v":0.887},{"i":2427,"v":0.885},{"i":2432,"v":0.888},{"i":2437,"v":0.886},{"i":2442,"v":0.871},{"i":2447,"v":0.888},{"i":2452,"v":0.885},{"i":2457,"v":0.887},{"i":2462,"v":0.888},{"i":2467,"v":0.870},{"i":2472,"v":0.886},{"i":2477,"v":0.888},{"i":2482,"v":0.885},{"i":2487,"v":0.888},{"i":2492,"v":0.871},{"i":2497,"v":0.887},
{"i":2502,"v":0.886},{"i":2507,"v":0.884},{"i":2517,"v":0.887},{"i":2522,"v":0.872},{"i":2527,"v":0.885},{"i":2532,"v":0.888},{"i":2537,"v":0.884},{"i":2542,"v":0.886},{"i":2547,"v":0.871},{"i":2552,"v":0.885},{"i":2557,"v":0.887},{"i":2562,"v":0.884},{"i":2567,"v":0.886},{"i":2572,"v":0.872},{"i":2582,"v":0.885},{"i":2587,"v":0.887},{"i":2597,"v":0.884},
{"i":2602,"v":0.886},{"i":2607,"v":0.872},{"i":2612,"v":0.887},{"i":2617,"v":0.884},{"i":2622,"v":0.886},{"i":2627,"v":0.888},{"i":2632,"v":0.873},{"i":2637,"v":0.885},{"i":2642,"v":0.887},{"i":2647,"v":0.884},{"i":2652,"v":0.886},{"i":2657,"v":0.872},{"i":2662,"v":0.885},{"i":2667,"v":0.887},{"i":2672,"v":0.884},{"i":2682,"v":0.886},{"i":2687,"v":0.873},{"i":2692,"v":0.885},
{"i":2702,"v":0.887},{"i":2712,"v":0.884},{"i":2717,"v":0.886},{"i":2722,"v":0.873},{"i":2727,"v":0.885},{"i":2732,"v":0.887},{"i":2742,"v":0.885},{"i":2747,"v":0.874},{"i":2752,"v":0.886},{"i":2757,"v":0.884},{"i":2762,"v":0.888},{"i":2772,"v":0.885},{"i":2777,"v":0.873},{"i":2782,"v":0.887},{"i":2787,"v":0.885},
{"i":2802,"v":0.886},{"i":2807,"v":0.888},{"i":2812,"v":0.874},{"i":2817,"v":0.885},{"i":2822,"v":0.887},{"i":2832,"v":0.886},{"i":2837,"v":0.888},{"i":2842,"v":0.874},{"i":2847,"v":0.887},{"i":2852,"v":0.885},{"i":2857,"v":0.889},{"i":2862,"v":0.886},{"i":2867,"v":0.875},{"i":2872,"v":0.887},{"i":2877,"v":0.885},{"i":2882,"v":0.888},{"i":2887,"v":0.886},{"i":2892,"v":0.874},{"i":2897,"v":0.887},
{"i":2902,"v":0.889},{"i":2907,"v":0.886},{"i":2912,"v":0.875},{"i":2917,"v":0.887},{"i":2922,"v":0.885},{"i":2927,"v":0.888},{"i":2937,"v":0.886},{"i":2942,"v":0.875},{"i":2947,"v":0.887},{"i":2952,"v":0.889},{"i":2957,"v":0.885},{"i":2962,"v":0.887},{"i":2967,"v":0.876},{"i":2972,"v":0.888},{"i":2977,"v":0.886},{"i":2982,"v":0.889},{"i":2987,"v":0.886},{"i":2992,"v":0.876},{"i":2997,"v":0.887}
    ],
    "sm": [
{"i":0,"v":0.729},{"i":3,"v":0.731},{"i":6,"v":0.755},{"i":10,"v":0.762},{"i":20,"v":0.770},{"i":30,"v":0.776},{"i":40,"v":0.781},{"i":50,"v":0.786},{"i":60,"v":0.789},{"i":66,"v":0.788},{"i":75,"v":0.791},{"i":90,"v":0.797},{"i":105,"v":0.801},{"i":120,"v":0.806},{"i":135,"v":0.809},{"i":149,"v":0.812},{"i":150,"v":0.805},{"i":160,"v":0.808},{"i":180,"v":0.814},{"i":200,"v":0.820},{"i":220,"v":0.825},{"i":238,"v":0.829},{"i":253,"v":0.826},{"i":270,"v":0.831},{"i":296,"v":0.835},{"i":320,"v":0.838},{"i":340,"v":0.838},{"i":350,"v":0.840},{"i":376,"v":0.842},{"i":377,"v":0.836},{"i":400,"v":0.840},{"i":420,"v":0.842},{"i":446,"v":0.840},{"i":470,"v":0.845},{"i":496,"v":0.848},{"i":521,"v":0.845},{"i":540,"v":0.849},{"i":567,"v":0.852},{"i":568,"v":0.841},{"i":590,"v":0.846},{"i":611,"v":0.849},{"i":650,"v":0.855},{"i":713,"v":0.857},{"i":714,"v":0.848},{"i":730,"v":0.850},{"i":760,"v":0.853},{"i":797,"v":0.857},{"i":798,"v":0.848},{"i":830,"v":0.855},{"i":861,"v":0.858},{"i":900,"v":0.859},{"i":953,"v":0.860},{"i":956,"v":0.857},{"i":980,"v":0.860},{"i":1022,"v":0.862},{"i":1023,"v":0.855},{"i":1030,"v":0.852},{"i":1060,"v":0.857},{"i":1102,"v":0.861},{"i":1103,"v":0.848},{"i":1130,"v":0.854},{"i":1161,"v":0.861},{"i":1171,"v":0.857},{"i":1188,"v":0.856},{"i":1220,"v":0.861},{"i":1246,"v":0.862},{"i":1290,"v":0.865},{"i":1346,"v":0.868},{"i":1358,"v":0.866},{"i":1380,"v":0.867},{"i":1429,"v":0.868},{"i":1430,"v":0.860},{"i":1459,"v":0.863},{"i":1460,"v":0.856},{"i":1480,"v":0.861},{"i":1500,"v":0.864},{"i":1540,"v":0.866},{"i":1581,"v":0.868},{"i":1664,"v":0.868},{"i":1666,"v":0.865},{"i":1714,"v":0.869},{"i":1715,"v":0.8635},{"i":1769,"v":0.866},{"i":1770,"v":0.862},{"i":1800,"v":0.865},{"i":1850,"v":0.868},{"i":1911,"v":0.872},{"i":1912,"v":0.864},{"i":1954,"v":0.869},{"i":1969,"v":0.868},{"i":1970,"v":0.864},{"i":2030,"v":0.869},{"i":2123,"v":0.869},{"i":2131,"v":0.867},{"i":2200,"v":0.869},{"i":2265,"v":0.872},{"i":2266,"v":0.869},{"i":2330,"v":0.870},{"i":2401,"v":0.8725},{"i":2402,"v":0.868},{"i":2450,"v":0.871},{"i":2512,"v":0.874},{"i":2513,"v":0.8645},{"i":2550,"v":0.868},{"i":2581,"v":0.869},{"i":2639,"v":0.869},{"i":2640,"v":0.866},{"i":2677,"v":0.867},{"i":2678,"v":0.864},{"i":2720,"v":0.868},{"i":2749,"v":0.872},{"i":2750,"v":0.866},{"i":2790,"v":0.867},{"i":2827,"v":0.868},{"i":2877,"v":0.8715},{"i":2940,"v":0.873},{"i":3000,"v":0.874}
    ],
    "lossraw": [
{"i":0,"v":0.039},{"i":2,"v":0.035},{"i":5,"v":0.031},{"i":10,"v":0.029},{"i":16,"v":0.027},{"i":30,"v":0.025},{"i":50,"v":0.0235},{"i":100,"v":0.021},{"i":150,"v":0.019},{"i":200,"v":0.018},{"i":275,"v":0.0168},{"i":350,"v":0.0158},{"i":500,"v":0.0145},{"i":700,"v":0.0135},{"i":1000,"v":0.0125},{"i":1300,"v":0.0118},{"i":1600,"v":0.0112},{"i":2000,"v":0.0105},{"i":2500,"v":0.0097},{"i":3000,"v":0.009}
    ],
    "loss": [
{"i":0,"v":0.039},{"i":2,"v":0.035},{"i":5,"v":0.031},{"i":10,"v":0.029},{"i":16,"v":0.027},{"i":30,"v":0.025},{"i":50,"v":0.0235},{"i":100,"v":0.021},{"i":150,"v":0.019},{"i":200,"v":0.018},{"i":275,"v":0.0168},{"i":350,"v":0.0158},{"i":500,"v":0.0145},{"i":700,"v":0.0135},{"i":1000,"v":0.0125},{"i":1300,"v":0.0118},{"i":1600,"v":0.0112},{"i":2000,"v":0.0105},{"i":2500,"v":0.0097},{"i":3000,"v":0.009}
    ]
  },
  "encoding": {
    "x": {
      "field": "i", "type": "quantitative",
      "scale": {"domain": [-150, 3150], "nice": false, "zero": false},
      "axis": {"title": "Iteration", "values": [0, 500, 1000, 1500, 2000, 2500, 3000], "format": "d", "labelPadding": 13, "titleBaseline": "alphabetic", "titleY": 111}
    },
    "y": {
      "field": "v", "type": "quantitative",
      "scale": {"domain": [0, 0.9], "nice": false, "zero": false},
      "axis": {"title": "Metrics", "values": [0, 0.2, 0.4, 0.6, 0.8], "format": ".1f", "labelPadding": 15, "titleBaseline": "alphabetic", "titleX": -101, "titleY": 464, "titleAngle": 270, "titleAlign": "center"}
    }
  },
  "layer": [
    {
      "data": {"name": "lossraw"},
      "mark": {"type": "line", "strokeWidth": 5, "opacity": 0.4, "strokeCap": "square", "strokeJoin": "round"},
      "encoding": {
        "color": {
          "datum": "Tr Loss", "type": "nominal",
          "scale": {"domain": ["Tr Loss", "Val F1"], "range": ["#1f77b4", "#8c564b"]},
          "legend": {
            "title": null, "orient": "none", "legendX": 2465, "legendY": 382, "direction": "vertical",
            "symbolType": "stroke", "symbolSize": 10000, "symbolStrokeWidth": 5, "symbolOpacity": 0.4,
            "labelFontSize": 50, "labelFont": "DejaVu Sans", "labelColor": "black", "labelOffset": 43, "labelLimit": 500,
            "rowPadding": 25, "padding": 20, "clipHeight": 50,
            "strokeColor": "#cccccc", "fillColor": "rgba(255,255,255,0.8)", "cornerRadius": 10
          }
        }
      }
    },
    {
      "data": {"name": "raw"},
      "mark": {"type": "line", "strokeWidth": 5, "opacity": 0.4, "strokeCap": "square", "strokeJoin": "round"},
      "encoding": {"color": {"datum": "Val F1", "type": "nominal"}}
    },
    {
      "data": {"name": "loss"},
      "mark": {"type": "line", "strokeWidth": 10, "color": "#1f77b4", "strokeCap": "square", "strokeJoin": "round"},
      "encoding": {}
    },
    {
      "data": {"name": "sm"},
      "mark": {"type": "line", "strokeWidth": 10, "color": "#8c564b", "strokeCap": "square", "strokeJoin": "round"},
      "encoding": {}
    }
  ]
}
